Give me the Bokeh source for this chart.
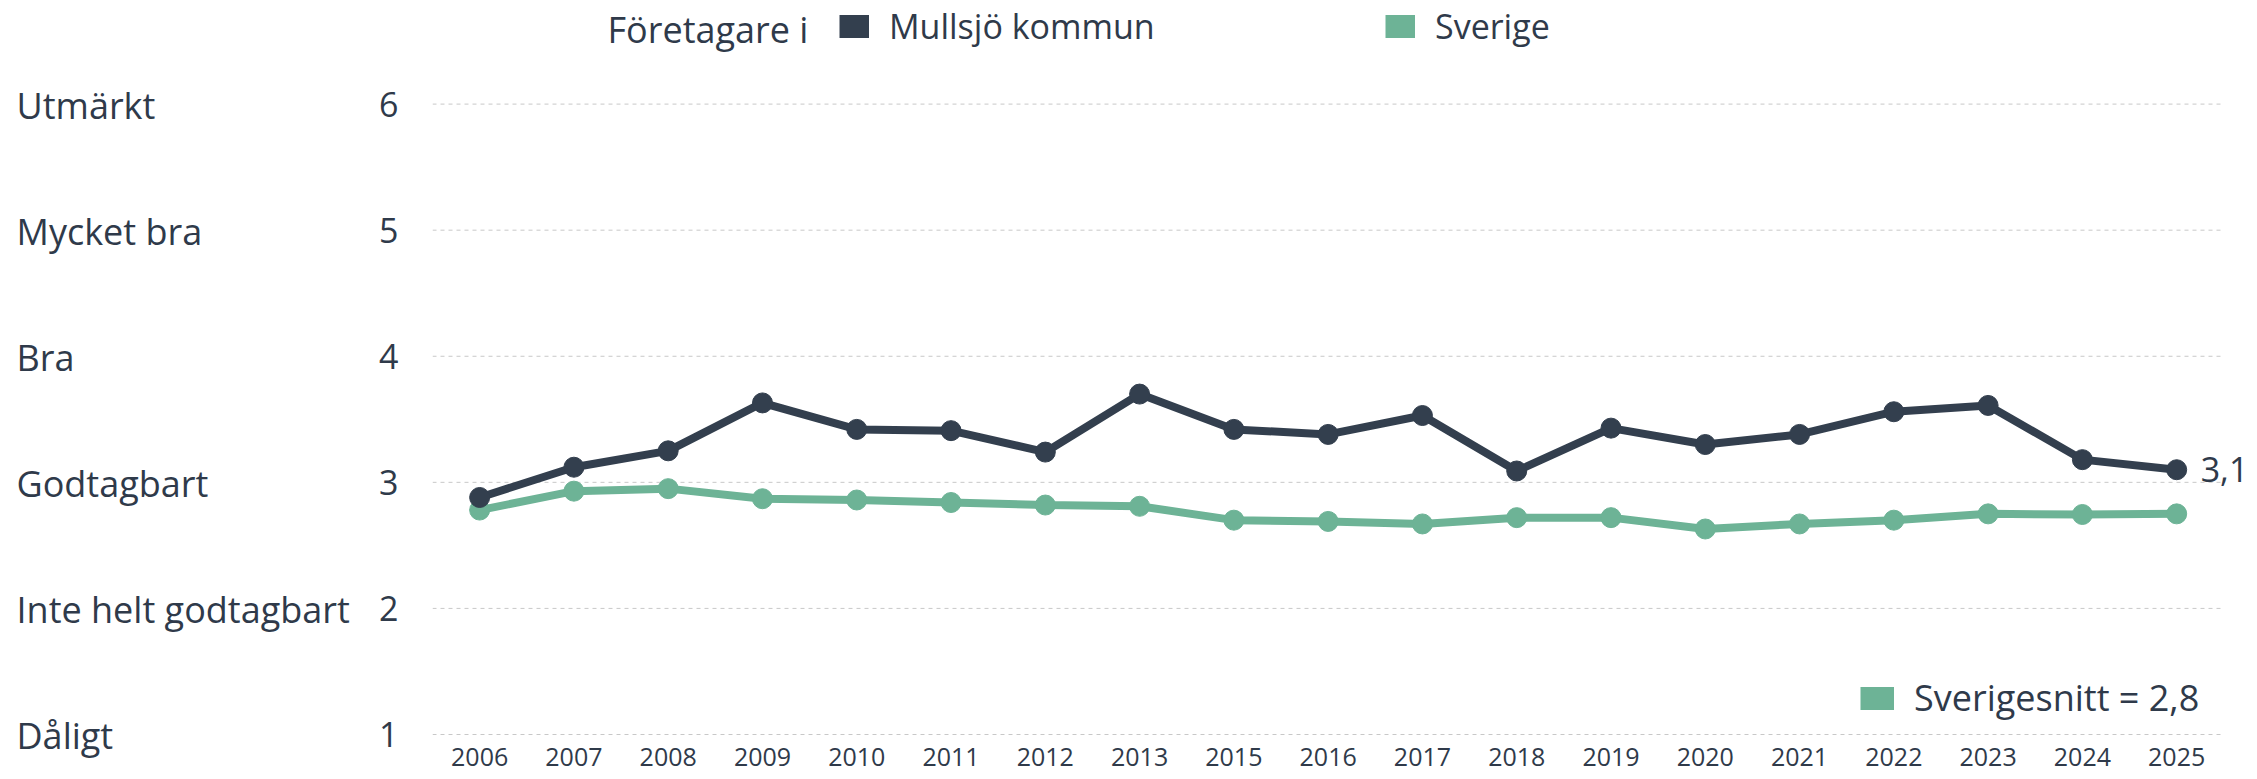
from bokeh.plotting import figure
from bokeh.layouts import row
from bokeh.models import (ColumnDataSource, Legend, LegendItem, Label, LabelSet,
                          Range1d, FixedTicker, LinearAxis)
from bokeh.core.properties import value
from bokeh.embed import file_html
from bokeh.resources import INLINE

# ---- data ----
years = ["2006", "2007", "2008", "2009", "2010", "2011", "2012", "2013", "2015",
         "2016", "2017", "2018", "2019", "2020", "2021", "2022", "2023", "2024", "2025"]
mullsjo = [2.88, 3.12, 3.25, 3.63, 3.42, 3.41, 3.24, 3.70, 3.42,
           3.38, 3.53, 3.09, 3.43, 3.30, 3.38, 3.56, 3.61, 3.18, 3.10]
sverige = [2.78, 2.93, 2.95, 2.87, 2.86, 2.84, 2.82, 2.81, 2.70,
           2.69, 2.67, 2.72, 2.72, 2.63, 2.67, 2.70, 2.75, 2.745, 2.75]
y_ticks = [1, 2, 3, 4, 5, 6]
y_tick_names = ["Dåligt", "Inte helt godtagbart", "Godtagbart", "Bra", "Mycket bra", "Utmärkt"]
legend_title = "Företagare i"
series_names = ["Mullsjö kommun", "Sverige"]
sverige_snitt = 2.8

# ---- style / layout ----
DARK = "#333f4e"
GREEN = "#6db396"
TEXT = "#2f3a4a"
GRID = "#c8c8c8"
FONT = "Open Sans"

W, H = 2252, 772
LEFT_W = 368            # width of the figure holding the category names
MAIN_W = W - LEFT_W
BORDER_L = 64           # main figure left border (numbers axis)
BORDER_B = 35           # bottom border (year axis)
PX_Y = 126.08           # pixels per y unit
PX_X = 94.28            # pixels per category
FRAME_H = H - BORDER_B
FRAME_W = MAIN_W - BORDER_L
Y_TOP = 6 + 103.6 / PX_Y  # value at the top of the canvas
y_start_main = Y_TOP - FRAME_H / PX_Y
NAME_SHIFT = 1 / PX_Y     # names sit slightly below their grid line
x_start = -0.5
x_end = x_start + FRAME_W / PX_X
n = len(years)
xs = list(range(n))

# ---------------- main figure ----------------
p = figure(width=MAIN_W, height=H,
           x_range=Range1d(x_start, x_end), y_range=Range1d(y_start_main, Y_TOP),
           output_backend="svg", toolbar_location=None,
           min_border_left=BORDER_L, min_border_right=0,
           min_border_top=0, min_border_bottom=BORDER_B)
p.outline_line_color = None
p.xgrid.grid_line_color = None
p.ygrid.grid_line_color = None

# grid lines spanning the category bands
grid_src = ColumnDataSource(dict(x0=[x_start] * len(y_ticks), x1=[n - 0.5] * len(y_ticks),
                                 y=y_ticks))
p.segment(x0="x0", x1="x1", y0="y", y1="y", source=grid_src,
          line_color=GRID, line_width=1, line_dash="4 4")

src = ColumnDataSource(dict(x=xs, year=years, mullsjo=mullsjo, sverige=sverige))
p.line("x", "sverige", source=src, line_color=GREEN, line_width=8)
p.scatter("x", "sverige", source=src, size=20, fill_color=GREEN, line_color=GREEN)
p.line("x", "mullsjo", source=src, line_color=DARK, line_width=8)
p.scatter("x", "mullsjo", source=src, size=20, fill_color=DARK, line_color=DARK)

# axes
p.xaxis.ticker = FixedTicker(ticks=xs)
p.xaxis.major_label_overrides = {i: y for i, y in zip(xs, years)}
p.xaxis.axis_line_color = None
p.xaxis.major_tick_line_color = None
p.xaxis.minor_tick_line_color = None
p.xaxis.major_label_text_font = FONT
p.xaxis.major_label_text_font_size = "25px"
p.xaxis.major_label_text_color = TEXT
p.xaxis.major_label_standoff = 4

p.yaxis.ticker = FixedTicker(ticks=y_ticks)
p.yaxis.axis_line_color = None
p.yaxis.major_tick_line_color = None
p.yaxis.minor_tick_line_color = None
p.yaxis.major_label_text_font = FONT
p.yaxis.major_label_text_font_size = "34px"
p.yaxis.major_label_text_color = TEXT
p.yaxis.major_label_standoff = 28

# end label
end_src = ColumnDataSource(dict(x=[xs[-1]], y=[mullsjo[-1]],
                                t=[f"{mullsjo[-1]:.1f}".replace(".", ",")]))
p.add_layout(LabelSet(x="x", y="y", text="t", source=end_src, x_offset=24,
                      text_font=value(FONT), text_font_size="34px", text_color=TEXT,
                      text_baseline="middle", text_align="left"))

# legend proxies (single point -> no visible line)
prox_d = p.line([xs[-1]], [mullsjo[-1]], line_color=DARK, line_width=23)
prox_g = p.line([xs[-1]], [sverige[-1]], line_color=GREEN, line_width=23)

top_legend = Legend(items=[LegendItem(label=series_names[0], renderers=[prox_d]),
                           LegendItem(label=series_names[1], renderers=[prox_g])],
                    orientation="horizontal", location=(407, FRAME_H - 49),
                    glyph_width=30, glyph_height=40, label_standoff=20,
                    label_width=496, spacing=0, padding=0, margin=0,
                    border_line_color=None, background_fill_alpha=0,
                    label_text_font=FONT, label_text_font_size="34px",
                    label_text_color=TEXT)
p.add_layout(top_legend, "center")

p.add_layout(Label(x=x_start + (607 - 432) / PX_X, y=Y_TOP - 29 / PX_Y,
                   text=legend_title,
                   text_font=FONT, text_font_size="36px", text_color=TEXT,
                   text_align="left", text_baseline="middle"))

bottom_legend = Legend(items=[LegendItem(label=f"Sverigesnitt = {sverige_snitt:.1f}".replace(".", ","),
                                         renderers=[prox_g])],
                       orientation="horizontal", location=(1428, FRAME_H - 722),
                       glyph_width=34, glyph_height=40, label_standoff=20,
                       spacing=0, padding=0, margin=0,
                       border_line_color=None, background_fill_alpha=0,
                       label_text_font=FONT, label_text_font_size="36px",
                       label_text_color=TEXT)
p.add_layout(bottom_legend, "center")

# ---------------- left figure: category names as a right-hand axis ----------------
NAME_X = 10
NAME_STANDOFF = 5
lf = figure(width=LEFT_W, height=H, x_range=Range1d(0, 1),
            y_range=Range1d(y_start_main + NAME_SHIFT, Y_TOP + NAME_SHIFT),
            x_axis_type=None, y_axis_type=None,
            output_backend="svg", toolbar_location=None,
            min_border_left=0, min_border_right=LEFT_W - (NAME_X - NAME_STANDOFF),
            min_border_top=0, min_border_bottom=BORDER_B)
lf.outline_line_color = None
lf.xgrid.grid_line_color = None
lf.ygrid.grid_line_color = None
name_axis = LinearAxis(ticker=FixedTicker(ticks=y_ticks),
                       major_label_overrides={t: nm for t, nm in zip(y_ticks, y_tick_names)},
                       axis_line_color=None, major_tick_line_color=None,
                       minor_tick_line_color=None, major_label_standoff=NAME_STANDOFF,
                       major_label_text_font=FONT, major_label_text_font_size="36px",
                       major_label_text_color=TEXT)
lf.add_layout(name_axis, "right")

layout = row(lf, p, spacing=0)
open("out.html", "w").write(file_html(layout, INLINE))
